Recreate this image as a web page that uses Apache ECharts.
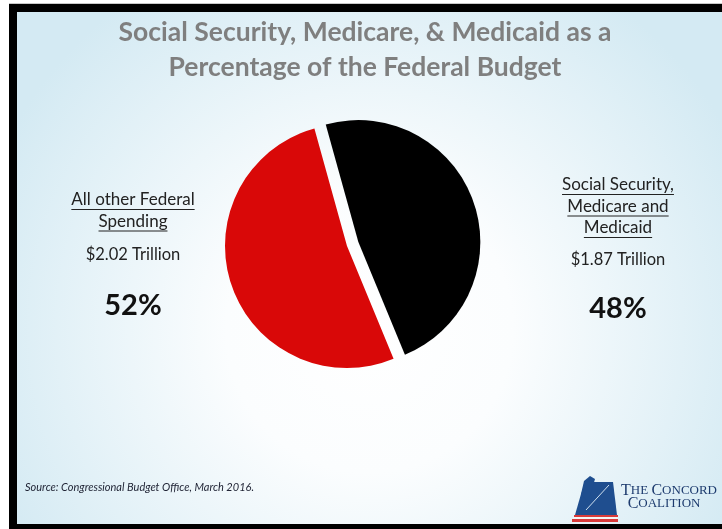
<!DOCTYPE html>
<html>
<head>
<meta charset="utf-8">
<script src="https://cdn.jsdelivr.net/npm/echarts@6/dist/echarts.min.js"></script>
<style>
  html, body { margin: 0; padding: 0; background: #ffffff; }
  #chart { width: 722px; height: 529px; }
</style>
</head>
<body>
<div id="chart"></div>
<script>
// Budget shares, in trillions of dollars
const sliceNames = ['Social Security, Medicare and Medicaid', 'All other Federal Spending'];
const sliceValues = [1.87, 2.02];
const sliceColors = ['#000000', '#d90808'];
// Caption lines shown beside each slice (underlined)
const captionLines = [
  ['Social Security,', 'Medicare and', 'Medicaid'],
  ['All other Federal', 'Spending']
];
const titleLines = ['Social Security, Medicare, & Medicaid as a', 'Percentage of the Federal Budget'];
const sourceText = 'Source: Congressional Budget Office, March 2016.';

const chart = echarts.init(document.getElementById('chart'), null, { renderer: 'canvas' });

const total = sliceValues.reduce((a, b) => a + b, 0);
const pct = sliceValues.map(v => Math.round(v / total * 100));

const measure = (() => {
  const ctx = document.createElement('canvas').getContext('2d');
  return (text, font) => { ctx.font = font; return ctx.measureText(text).width; };
})();

const textColor = '#222222';
const capFont = '17px Lato';
const valueFont = '16.5px Lato';

// Caption block layout: [centerX, first caption line center Y, value line Y, percent Y]
const blocks = [
  { cx: 618, y0: 185, vy: 260, py: 309 },
  { cx: 133, y0: 200, vy: 255, py: 306 }
];

const graphics = [];

// Slide frame and soft gradient background
graphics.push({
  type: 'rect', z: -10, silent: true,
  shape: { x: 17, y: 12, width: 705, height: 512 },
  style: {
    fill: {
      type: 'radial', x: 0.5, y: 0.62, r: 0.8,
      colorStops: [
        { offset: 0, color: '#ffffff' },
        { offset: 0.35, color: '#fbfdfe' },
        { offset: 1, color: '#d4eaf3' }
      ]
    }
  }
});
graphics.push({ type: 'rect', z: -9, silent: true, shape: { x: 9, y: 3, width: 713, height: 1 }, style: { fill: '#c8c8c8' } });
graphics.push({ type: 'rect', z: -9, silent: true, shape: { x: 9, y: 4, width: 713, height: 8 }, style: { fill: '#000000' } });
graphics.push({ type: 'rect', z: -9, silent: true, shape: { x: 9, y: 4, width: 8, height: 525 }, style: { fill: '#000000' } });
graphics.push({ type: 'rect', z: -9, silent: true, shape: { x: 9, y: 524, width: 713, height: 5 }, style: { fill: '#000000' } });

// Title
titleLines.forEach((t, i) => {
  graphics.push({
    type: 'text', silent: true,
    style: {
      text: t, x: 365, y: 32 + i * 35,
      align: 'center', verticalAlign: 'middle',
      font: 'bold 26.5px Lato', fill: '#7f7f7f'
    }
  });
});

// Captions, amounts and shares next to the pie
blocks.forEach((b, k) => {
  captionLines[k].forEach((line, i) => {
    const y = b.y0 + i * 21.5;
    const w = measure(line, capFont);
    graphics.push({
      type: 'text', silent: true,
      style: { text: line, x: b.cx, y: y, align: 'center', verticalAlign: 'middle', font: capFont, fill: textColor }
    });
    graphics.push({
      type: 'line', silent: true,
      shape: { x1: b.cx - w / 2, y1: y + 9.5, x2: b.cx + w / 2, y2: y + 9.5 },
      style: { stroke: textColor, lineWidth: 1 }
    });
  });
  graphics.push({
    type: 'text', silent: true,
    style: {
      text: '$' + sliceValues[k].toFixed(2) + ' Trillion', x: b.cx, y: b.vy,
      align: 'center', verticalAlign: 'middle', font: valueFont, fill: textColor
    }
  });
  graphics.push({
    type: 'text', silent: true,
    style: {
      text: pct[k] + '%', x: b.cx, y: b.py,
      align: 'center', verticalAlign: 'middle', font: 'bold 29px Lato', fill: '#111111'
    }
  });
});

// Source note
graphics.push({
  type: 'text', silent: true,
  style: { text: sourceText, x: 25, y: 487, align: 'left', verticalAlign: 'middle', font: 'italic 11px Lato', fill: '#1e2233' }
});

// Concord Coalition mark
graphics.push({
  type: 'polygon', silent: true,
  shape: { points: [[586, 482], [613, 482], [617, 515], [575, 515], [581, 494]] },
  style: { fill: '#1f4e8f' }
});
graphics.push({
  type: 'polygon', silent: true,
  shape: { points: [[581, 494], [584, 481], [590, 476], [595, 479], [593, 486], [590, 496], [586, 500]] },
  style: { fill: '#1f4e8f' }
});
graphics.push({
  type: 'line', silent: true,
  shape: { x1: 586, y1: 510, x2: 609, y2: 485 },
  style: { stroke: '#cfe0ef', lineWidth: 1 }
});
graphics.push({ type: 'rect', silent: true, shape: { x: 574, y: 515, width: 44, height: 2 }, style: { fill: '#d93a3a' } });
graphics.push({ type: 'rect', silent: true, shape: { x: 573, y: 517, width: 45, height: 2 }, style: { fill: '#f4f4f4' } });
graphics.push({ type: 'rect', silent: true, shape: { x: 572, y: 519, width: 46, height: 3 }, style: { fill: '#d93a3a' } });
graphics.push({
  type: 'text', silent: true,
  style: {
    text: '{b|T}{s|HE} {b|C}{s|ONCORD}\n  {b|C}{s|OALITION}',
    x: 621, y: 497, align: 'left', verticalAlign: 'middle',
    fill: '#1d3b6e',
    rich: {
      b: { font: '16px "Liberation Serif"', fill: '#1d3b6e', lineHeight: 13 },
      s: { font: '13px "Liberation Serif"', fill: '#1d3b6e', lineHeight: 13 }
    }
  }
});

chart.setOption({
  animation: false,
  graphic: graphics,
  series: [{
    type: 'pie',
    center: [347, 246],
    radius: 122,
    startAngle: 105.5,
    clockwise: true,
    selectedMode: 'single',
    selectedOffset: 12,
    silent: true,
    label: { show: false },
    labelLine: { show: false },
    emphasis: { disabled: true },
    itemStyle: { borderWidth: 0 },
    data: sliceNames.map((n, i) => ({
      name: n,
      value: sliceValues[i],
      selected: i === 0,
      itemStyle: { color: sliceColors[i] }
    }))
  }]
});
</script>
</body>
</html>
